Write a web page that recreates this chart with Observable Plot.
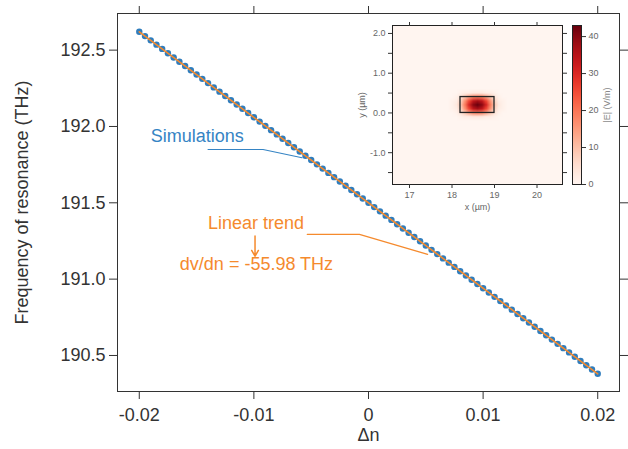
<!DOCTYPE html>
<html><head><meta charset="utf-8">
<script src="https://cdn.jsdelivr.net/npm/d3@7"></script>
<script src="https://cdn.jsdelivr.net/npm/@observablehq/plot@0.6"></script>
<style>body{margin:0;background:#fff}#chart{position:relative;width:628px;height:449px}</style>
</head><body><div id="chart"></div>
<script>
// ---- data ----
const deltaN = [
-0.0200,-0.0195,-0.0190,-0.0185,-0.0180,-0.0175,-0.0170,-0.0165,-0.0160,-0.0155,
-0.0150,-0.0145,-0.0140,-0.0135,-0.0130,-0.0125,-0.0120,-0.0115,-0.0110,-0.0105,
-0.0100,-0.0095,-0.0090,-0.0085,-0.0080,-0.0075,-0.0070,-0.0065,-0.0060,-0.0055,
-0.0050,-0.0045,-0.0040,-0.0035,-0.0030,-0.0025,-0.0020,-0.0015,-0.0010,-0.0005,
0.0000,
0.0005,0.0010,0.0015,0.0020,0.0025,0.0030,0.0035,0.0040,0.0045,0.0050,
0.0055,0.0060,0.0065,0.0070,0.0075,0.0080,0.0085,0.0090,0.0095,0.0100,
0.0105,0.0110,0.0115,0.0120,0.0125,0.0130,0.0135,0.0140,0.0145,0.0150,
0.0155,0.0160,0.0165,0.0170,0.0175,0.0180,0.0185,0.0190,0.0195,0.0200];
const freqSim = [
192.620,192.592,192.564,192.536,192.508,192.480,192.452,192.424,192.396,192.368,
192.340,192.312,192.284,192.256,192.228,192.200,192.172,192.144,192.116,192.088,
192.060,192.032,192.004,191.976,191.948,191.920,191.892,191.864,191.836,191.808,
191.780,191.752,191.724,191.696,191.668,191.640,191.612,191.584,191.556,191.528,
191.500,
191.472,191.444,191.416,191.388,191.360,191.332,191.304,191.276,191.248,191.220,
191.192,191.164,191.136,191.108,191.080,191.052,191.024,190.996,190.968,190.940,
190.912,190.884,190.856,190.828,190.800,190.772,190.744,190.716,190.688,190.660,
190.632,190.604,190.576,190.548,190.520,190.492,190.464,190.436,190.408,190.380];
const trendDn = [-0.02, 0.02];
const trendFreq = [192.620, 190.380];
const slopeText = "dv/dn = -55.98 THz";

const xTicks = [-0.02, -0.01, 0, 0.01, 0.02];
const yTicks = [190.5, 191.0, 191.5, 192.0, 192.5];

// inset: |E| field map (rows from top y=0.6 to bottom y=-0.2, columns x=17.9..19.3)
const fieldCols = 15, fieldRows = 9;
const field = [
0,0,0,0,0,0,0,0,0,0,0,0,0,0,0,
0,0,0,1,2,2,3,3,3,2,2,1,0,0,0,
0,0,1,4,9,14,18,19,18,14,9,4,1,0,0,
0,1,2,7,16,26,34,37,34,26,16,7,2,1,0,
0,1,3,9,19,31,40,43,40,31,19,9,3,1,0,
0,1,2,7,16,26,34,37,34,26,16,7,2,1,0,
0,0,1,4,9,14,18,19,18,14,9,4,1,0,0,
0,0,0,1,2,2,3,3,3,2,2,1,0,0,0,
0,0,0,0,0,0,0,0,0,0,0,0,0,0,0];
const waveguide = [{x1: 18.2, x2: 19.0, y1: 0.0, y2: 0.4}];
const insetXTicks = [17, 18, 19, 20];
const insetYTicks = [-1.5, -1.0, -0.5, 0.0, 0.5, 1.0, 1.5, 2.0];
const cbTicks = [0, 10, 20, 30, 40];

// ---- build ----
const sim = deltaN.map((d, i) => ({dn: d, f: freqSim[i]}));
const trend = trendDn.map((d, i) => ({dn: d, f: trendFreq[i]}));
const font = "'Liberation Sans', Arial, Helvetica, sans-serif";
const blue = "#3584c4", orange = "#f58a2d";

const main = Plot.plot({
  width: 628, height: 449,
  marginLeft: 117, marginRight: 9, marginTop: 13, marginBottom: 58,
  style: {fontFamily: font, fontSize: "18px", color: "#333", background: "white"},
  x: {domain: [-0.0219, 0.0219]},
  y: {domain: [190.264, 192.74]},
  marks: [
    Plot.frame({stroke: "#333"}),
    Plot.axisX({anchor: "bottom", ticks: xTicks, tickSize: 8, tickPadding: 9, tickFormat: d => String(d), label: null, fontSize: 18}),
    Plot.axisX({anchor: "top", ticks: xTicks, tickSize: 8, tickFormat: () => "", label: null}),
    Plot.axisY({anchor: "left", ticks: yTicks, tickSize: 8, tickPadding: 4, tickFormat: d => d.toFixed(1), label: null, fontSize: 18}),
    Plot.axisY({anchor: "right", ticks: yTicks, tickSize: 8, tickFormat: () => "", label: null}),
    Plot.text(["Δn"], {frameAnchor: "bottom", dy: 49, fontSize: 18, fill: "#333"}),
    Plot.text(["Frequency of resonance (THz)"], {frameAnchor: "left", textAnchor: "middle", dx: -95, rotate: -90, fontSize: 18, fill: "#333"}),
    Plot.dot(sim, {x: "dn", y: "f", r: 3.2, fill: "#2f7dbd", stroke: null}),
    Plot.line(trend, {x: "dn", y: "f", stroke: orange, strokeWidth: 1.6}),
    // annotations
    Plot.text([{x: -0.0190, y: 191.935, t: "Simulations"}], {x: "x", y: "y", text: "t", textAnchor: "start", fill: blue, fontSize: 18}),
    Plot.line([{x: -0.0140, y: 191.849}, {x: -0.0092, y: 191.849}, {x: -0.0058, y: 191.795}], {x: "x", y: "y", stroke: blue, strokeWidth: 1.1}),
    Plot.text([{x: -0.0140, y: 191.365, t: "Linear trend"}], {x: "x", y: "y", text: "t", textAnchor: "start", fill: orange, fontSize: 18}),
    Plot.line([{x: -0.00534, y: 191.293}, {x: -0.00079, y: 191.293}, {x: 0.00516, y: 191.162}], {x: "x", y: "y", stroke: orange, strokeWidth: 1.2}),
    Plot.arrow([{x1: -0.0099, y1: 191.282, x2: -0.0099, y2: 191.150}], {x1: "x1", y1: "y1", x2: "x2", y2: "y2", stroke: orange, strokeWidth: 1.5, headLength: 7}),
    Plot.text([{x: -0.01646, y: 191.096, t: slopeText}], {x: "x", y: "y", text: "t", textAnchor: "start", fill: orange, fontSize: 18})
  ]
});

const inset = Plot.plot({
  width: 215, height: 200,
  marginLeft: 37, marginRight: 8, marginTop: 10, marginBottom: 31,
  style: {fontFamily: font, fontSize: "9px", color: "#444", background: "transparent", position: "absolute", left: "355px", top: "15px"},
  x: {domain: [16.6, 20.6]},
  y: {domain: [-1.8, 2.2]},
  color: {type: "linear", scheme: "reds", domain: [0, 43]},
  marks: [
    Plot.frame({fill: "#fff5f0"}),
    Plot.raster(field, {width: fieldCols, height: fieldRows, x1: 17.85, x2: 19.35, y1: -0.25, y2: 0.65, fill: d => d}),
    Plot.rect(waveguide, {x1: "x1", x2: "x2", y1: "y1", y2: "y2", fill: "none", stroke: "#222", strokeWidth: 1.3}),
    Plot.frame({stroke: "#222"}),
    Plot.axisX({anchor: "bottom", ticks: insetXTicks, tickSize: 4, tickPadding: 3, tickFormat: d => String(d), label: null, stroke: "#333", fill: "#666"}),
    Plot.axisX({anchor: "top", ticks: insetXTicks, tickSize: 4, tickFormat: () => "", label: null, stroke: "#333"}),
    Plot.axisY({anchor: "left", ticks: insetYTicks, tickSize: 4, tickPadding: 3, tickFormat: d => Number.isInteger(d) ? d.toFixed(1) : "", label: null, stroke: "#333", fill: "#666"}),
    Plot.axisY({anchor: "right", ticks: insetYTicks, tickSize: 4, tickFormat: () => "", label: null, stroke: "#333"}),
    Plot.text(["x (µm)"], {frameAnchor: "bottom", dy: 25, fill: "#666", fontSize: 9}),
    Plot.text(["y (µm)"], {frameAnchor: "left", textAnchor: "middle", dx: -30, rotate: -90, fill: "#666", fontSize: 9})
  ]
});

const colorbar = Plot.plot({
  width: 63, height: 200,
  marginLeft: 7, marginRight: 47, marginTop: 10, marginBottom: 31,
  style: {fontFamily: font, fontSize: "9px", color: "#444", background: "transparent", position: "absolute", left: "565px", top: "15px"},
  x: {domain: [0, 1], axis: null},
  y: {domain: [0, 43]},
  color: {type: "linear", scheme: "reds", domain: [0, 43]},
  marks: [
    Plot.raster({x1: 0, x2: 1, y1: 0, y2: 43, fill: (x, y) => y}),
    Plot.frame({stroke: "#222"}),
    Plot.axisY({anchor: "right", ticks: cbTicks, tickSize: 4, tickPadding: 3, label: null, stroke: "#333", fill: "#666"}),
    Plot.text(["|E| (V/m)"], {frameAnchor: "right", textAnchor: "middle", dx: 26, rotate: -90, fill: "#888", fontSize: 9})
  ]
});

const el = document.getElementById("chart");
el.append(main, inset, colorbar);
</script></body></html>
